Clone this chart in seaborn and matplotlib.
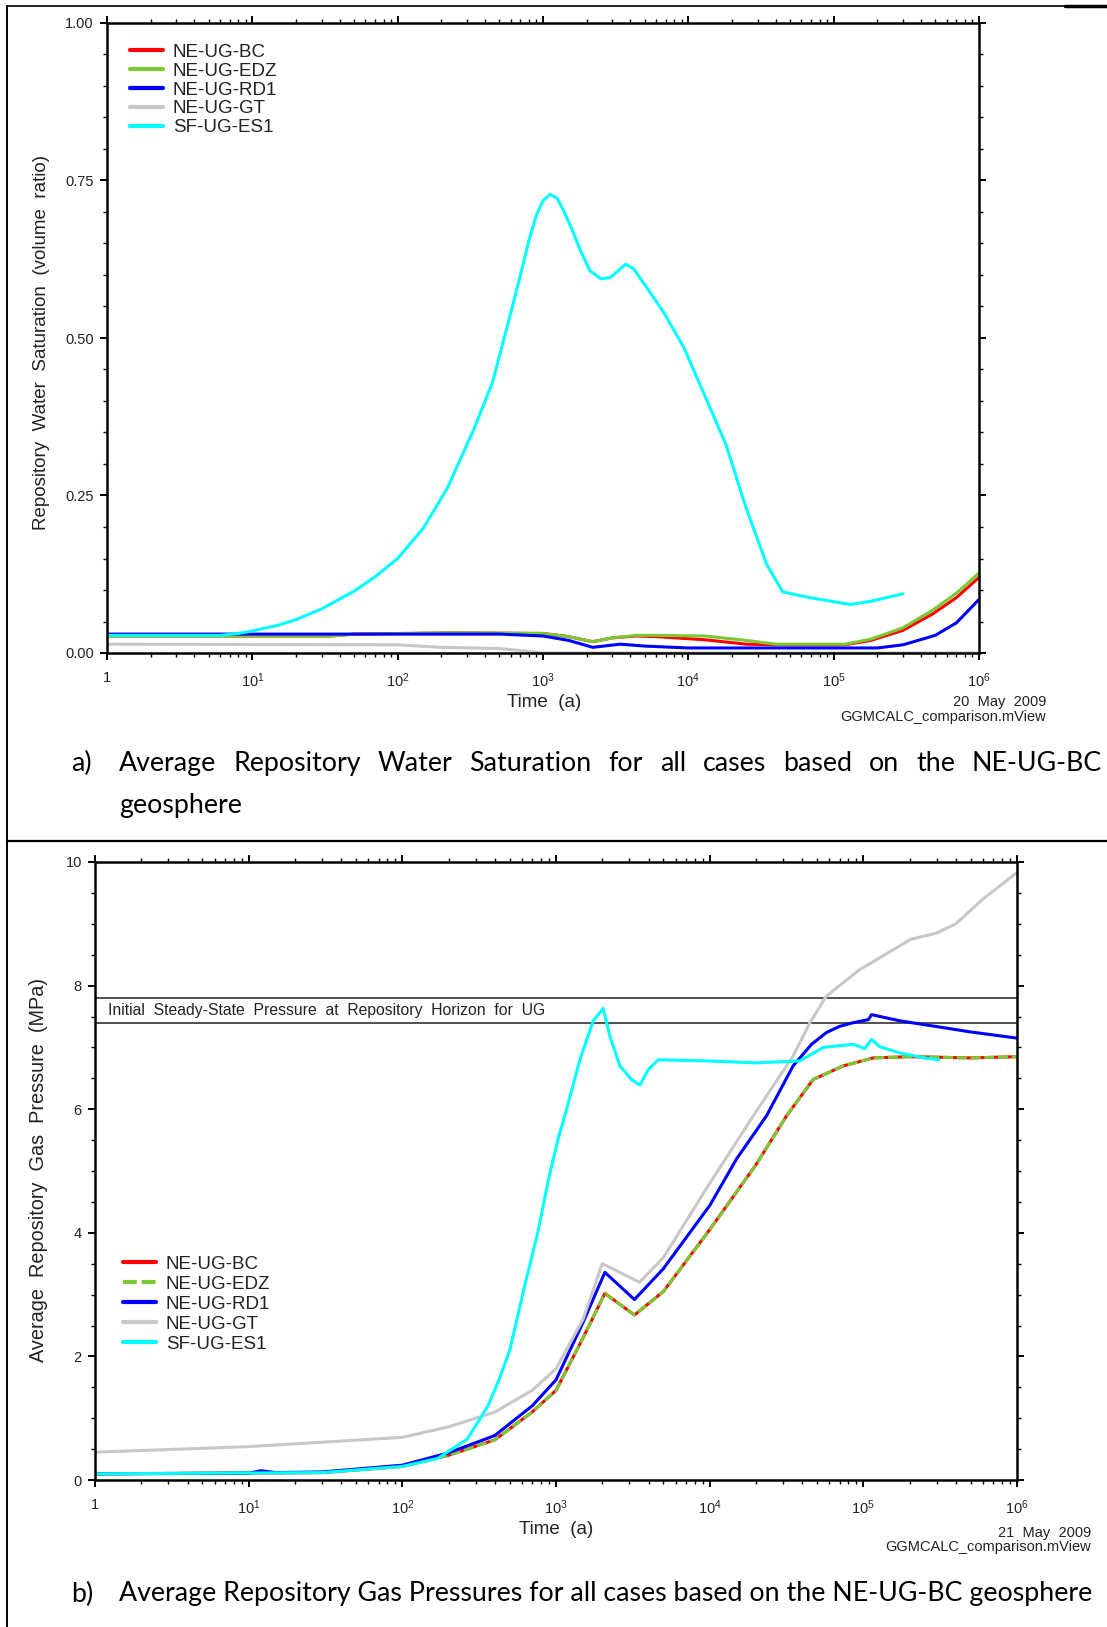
import numpy as np
import matplotlib
matplotlib.use('Agg')
import matplotlib.pyplot as plt
from matplotlib.lines import Line2D
from matplotlib.ticker import LogLocator, MultipleLocator, NullFormatter, FormatStrFormatter
import seaborn as sns

# ---- series names / colours (same for both panels)
names = ['NE-UG-BC', 'NE-UG-EDZ', 'NE-UG-RD1', 'NE-UG-GT', 'SF-UG-ES1']
colors = ['#ff0000', '#7cc834', '#0000ff', '#c8c8c8', '#00ffff']

decades = [1, 1e1, 1e2, 1e3, 1e4, 1e5, 1e6]
decade_labels = ['1'] + ['$\\mathregular{10^{%d}}$' % i for i in range(1, 7)]

# ---- a) repository water saturation (volume ratio) vs time (a)
sat_bc_t = [1, 35, 50, 240, 1000, 1500, 2200, 3000, 4400, 6000, 13000, 25000, 40000,
            120000, 180000, 300000, 480000, 700000, 1000000]
sat_bc = [0.027, 0.027, 0.030, 0.032, 0.031, 0.026, 0.018, 0.024, 0.027, 0.026, 0.021,
          0.014, 0.013, 0.013, 0.020, 0.036, 0.062, 0.088, 0.120]
sat_edz_t = [1, 35, 50, 240, 1000, 1500, 2200, 3000, 4400, 6000, 13000, 25000, 40000,
             120000, 180000, 300000, 480000, 700000, 1000000]
sat_edz = [0.027, 0.027, 0.030, 0.032, 0.031, 0.026, 0.018, 0.024, 0.028, 0.028, 0.027,
           0.020, 0.014, 0.014, 0.022, 0.040, 0.068, 0.095, 0.127]
sat_rd1_t = [1, 500, 1000, 1500, 2200, 3400, 5000, 10000, 200000, 300000, 500000,
             700000, 1000000]
sat_rd1 = [0.030, 0.030, 0.027, 0.020, 0.009, 0.014, 0.011, 0.008, 0.008, 0.013, 0.028,
           0.048, 0.085]
sat_gt_t = [1, 100, 200, 500, 700, 1000, 1000000]
sat_gt = [0.014, 0.013, 0.009, 0.007, 0.004, 0.0, 0.0]
sat_es1_t = [1, 6, 8, 10, 15, 20, 30, 50, 70, 100, 150, 220, 330, 450, 600, 700, 800,
             900, 1000, 1120, 1250, 1400, 1600, 1800, 2100, 2500, 2900, 3300, 3700, 4200,
             5000, 6800, 9300, 12900, 18200, 25000, 34700, 44700, 68000, 130000, 180000,
             300000]
sat_es1 = [0.028, 0.028, 0.031, 0.035, 0.044, 0.053, 0.070, 0.098, 0.121, 0.150, 0.198,
           0.262, 0.352, 0.430, 0.540, 0.600, 0.655, 0.695, 0.718, 0.728, 0.722, 0.700,
           0.670, 0.640, 0.607, 0.594, 0.596, 0.607, 0.617, 0.610, 0.585, 0.540, 0.485,
           0.410, 0.330, 0.230, 0.140, 0.097, 0.088, 0.077, 0.082, 0.094]

# ---- b) average repository gas pressure (MPa) vs time (a)
pr_bc_t = [1, 30, 100, 200, 400, 700, 1000, 1500, 2080, 3240, 5000, 10000, 20000, 31600,
           47100, 73900, 116000, 200000, 500000, 1000000]
pr_bc = [0.10, 0.12, 0.22, 0.40, 0.65, 1.10, 1.45, 2.30, 3.02, 2.67, 3.05, 4.05, 5.10,
         5.89, 6.48, 6.70, 6.83, 6.85, 6.83, 6.85]
pr_edz_t = pr_bc_t
pr_edz = pr_bc
pr_rd1_t = [1, 10, 12, 15, 30, 100, 200, 400, 700, 1000, 1500, 2080, 3240, 5000, 10000,
            15000, 23400, 34900, 46000, 57500, 70000, 85900, 108000, 113000, 173000,
            500000, 1000000]
pr_rd1 = [0.10, 0.11, 0.15, 0.12, 0.13, 0.24, 0.44, 0.72, 1.20, 1.62, 2.55, 3.36, 2.92,
          3.42, 4.44, 5.20, 5.89, 6.70, 7.05, 7.24, 7.34, 7.40, 7.45, 7.53, 7.43, 7.25,
          7.15]
pr_gt_t = [1, 10, 100, 200, 400, 700, 1000, 1500, 2000, 3500, 5000, 10000, 19200, 34900,
           44900, 57500, 94800, 122000, 204000, 300000, 400000, 600000, 1000000]
pr_gt = [0.45, 0.54, 0.69, 0.86, 1.10, 1.45, 1.80, 2.60, 3.50, 3.20, 3.60, 4.80, 5.89,
         6.86, 7.40, 7.83, 8.26, 8.42, 8.75, 8.85, 9.00, 9.40, 9.83]
pr_es1_t = [1, 30, 100, 170, 264, 361, 430, 500, 620, 760, 900, 1040, 1172, 1430, 1746,
            2028, 2243, 2606, 3100, 3516, 3985, 4624, 10000, 20000, 38600, 54800, 85900,
            102000, 113000, 128000, 173000, 250000, 310000]
pr_es1 = [0.10, 0.12, 0.22, 0.35, 0.66, 1.20, 1.65, 2.10, 3.10, 4.00, 4.90, 5.55, 6.00,
          6.80, 7.43, 7.63, 7.18, 6.70, 6.48, 6.39, 6.64, 6.80, 6.78, 6.75, 6.78, 7.00,
          7.05, 6.98, 7.13, 7.01, 6.91, 6.83, 6.80]
steady_state_band = [7.4, 7.8]

sat_series = [(sat_bc_t, sat_bc), (sat_edz_t, sat_edz), (sat_rd1_t, sat_rd1),
              (sat_gt_t, sat_gt), (sat_es1_t, sat_es1)]
pr_series = [(pr_bc_t, pr_bc), (pr_edz_t, pr_edz), (pr_rd1_t, pr_rd1),
             (pr_gt_t, pr_gt), (pr_es1_t, pr_es1)]

sns.set_style('ticks')
plt.rcParams['font.family'] = ['Liberation Sans', 'DejaVu Sans']
plt.rcParams['text.color'] = '#222222'

W, H = 1107, 1627
fig = plt.figure(figsize=(W / 100, H / 100), dpi=100)


def fx(x):
    return x / W


def fy(y):
    return 1 - y / H


def style_axes(ax, ymax, ymajor, yminor, yfmt):
    ax.set_xscale('log')
    ax.set_xlim(1, 1e6)
    ax.set_ylim(0, ymax)
    ax.set_xticks(decades)
    ax.set_xticklabels(decade_labels)
    ax.xaxis.set_minor_locator(LogLocator(base=10, subs=np.arange(2, 10), numticks=20))
    ax.xaxis.set_minor_formatter(NullFormatter())
    ax.yaxis.set_major_locator(MultipleLocator(ymajor))
    ax.yaxis.set_minor_locator(MultipleLocator(yminor))
    ax.yaxis.set_major_formatter(FormatStrFormatter(yfmt))
    ax.tick_params(which='both', direction='out', top=True, right=True,
                   color='black', labelcolor='#222222')
    ax.tick_params(which='major', length=5, width=1.4, labelsize=10.5)
    ax.tick_params(which='minor', length=3, width=1.0)
    ax.tick_params(axis='x', which='major', pad=8)
    ax.tick_params(axis='y', which='major', pad=4.5)
    for s in ax.spines.values():
        s.set_visible(True)
        s.set_linewidth(1.8)
        s.set_color('black')
    ax.set_xlabel('')
    ax.set_ylabel('')
    ax.grid(False)


def draw_lines(ax, series, dashed_edz):
    for (t, v), name, col in zip(series, names, colors):
        ls = (0, (3.3, 1.2)) if (dashed_edz and name == 'NE-UG-EDZ') else '-'
        sns.lineplot(x=t, y=v, ax=ax, color=col, label=name, linewidth=2.2,
                     linestyle=ls, estimator=None, sort=False)


def legend(ax, anchor, spacing):
    leg = ax.legend(loc='upper left', bbox_to_anchor=anchor, frameon=False,
                    fontsize=13.5, handlelength=1.8, handletextpad=0.5,
                    labelspacing=spacing, borderpad=0, borderaxespad=0)
    for h in leg.get_lines():
        h.set_linewidth(3)
    for t in leg.get_texts():
        t.set_color('#222222')


# ---- panel a
ax1 = fig.add_axes([fx(107), fy(653), (979 - 107) / W, (653 - 23) / H])
draw_lines(ax1, sat_series, dashed_edz=False)
style_axes(ax1, 1.0, 0.25, 0.05, '%.2f')
legend(ax1, (0.026, 0.967), 0.09)

# ---- panel b
ax2 = fig.add_axes([fx(95), fy(1480), (1017 - 95) / W, (1480 - 862) / H])
for lvl in steady_state_band:
    ax2.axhline(lvl, color='#333333', linewidth=1.2, zorder=1)
draw_lines(ax2, pr_series, dashed_edz=True)
style_axes(ax2, 10, 2, 0.5, '%d')
legend(ax2, (0.030, 0.363), 0.15)
ax2.text(0.014, sum(steady_state_band) / 2,
         'Initial  Steady-State  Pressure  at  Repository  Horizon  for  UG',
         transform=ax2.get_yaxis_transform(), fontsize=11.3, va='center', ha='left')

# ---- axis titles and stamps
fig.text(fx(42), fy(343), 'Repository  Water  Saturation  (volume  ratio)',
         rotation=90, ha='center', va='center', fontsize=13.5)
fig.text(fx(544), fy(702), 'Time  (a)', ha='center', va='center', fontsize=13.5)
fig.text(fx(1046), fy(702), '20  May  2009', ha='right', va='center', fontsize=10.5)
fig.text(fx(1046), fy(717), 'GGMCALC_comparison.mView', ha='right', va='center',
         fontsize=10.5)

fig.text(fx(39), fy(1170), 'Average  Repository  Gas  Pressure  (MPa)',
         rotation=90, ha='center', va='center', fontsize=14.3)
fig.text(fx(556), fy(1530), 'Time  (a)', ha='center', va='center', fontsize=13.5)
fig.text(fx(1091), fy(1533), '21  May  2009', ha='right', va='center', fontsize=10.5)
fig.text(fx(1091), fy(1547), 'GGMCALC_comparison.mView', ha='right', va='center',
         fontsize=10.5)

# ---- captions (document text below each panel)
cap_font = dict(family=['Lato', 'DejaVu Sans'], fontsize=19.3, color='black',
                va='center', ha='left')
renderer = fig.canvas.get_renderer()


def justified(words, x0, x1, y):
    texts = [fig.text(fx(x0), fy(y), w, **cap_font) for w in words]
    widths = [t.get_window_extent(renderer).width for t in texts]
    gap = (x1 - x0 - sum(widths)) / (len(words) - 1)
    x = x0
    for t, w in zip(texts, widths):
        t.set_x(fx(x))
        x += w + gap


fig.text(fx(71), fy(763), 'a)', **cap_font)
justified('Average Repository Water Saturation for all cases based on the NE-UG-BC'.split(),
          119, 1102, 763)
fig.text(fx(119), fy(806), 'geosphere', **cap_font)
fig.text(fx(71), fy(1594), 'b)', **cap_font)
fig.text(fx(119), fy(1594),
         'Average Repository Gas Pressures for all cases based on the NE-UG-BC geosphere',
         **cap_font)

# ---- table frame around the panels
frame = [((7, 7), (6, H), 1.4), ((7, 1065), (6, 6), 1.2), ((1065, W), (6, 6), 2.5),
         ((7, W), (841, 841), 1.6)]
for xs, ys, lw in frame:
    fig.add_artist(Line2D([fx(v) for v in xs], [fy(v) for v in ys], color='black',
                          linewidth=lw, transform=fig.transFigure))

fig.savefig('out.png', dpi=100)
